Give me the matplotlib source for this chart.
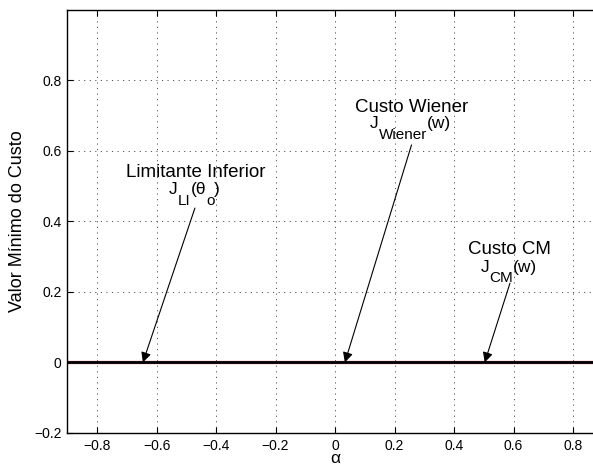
import matplotlib
matplotlib.use('Agg')
import matplotlib.pyplot as plt
import matplotlib as mpl
import matplotlib.transforms as mtransforms

mpl.rcParams['font.family'] = ['Liberation Sans', 'DejaVu Sans']
mpl.rcParams['axes.linewidth'] = 1.0
mpl.rcParams['lines.scale_dashes'] = False

# minimum cost versus alpha for the three criteria
alpha = [-0.9, -0.6, -0.3, 0.0, 0.3, 0.6, 0.9]
custo_li = [0.0, 0.0, 0.0, 0.0, 0.0, 0.0, 0.0]
custo_wiener = [0.0, 0.0, 0.0, 0.0, 0.0, 0.0, 0.0]
custo_cm = [0.0, 0.0, 0.0, 0.0, 0.0, 0.0, 0.0]

xticks = [-0.8, -0.6, -0.4, -0.2, 0, 0.2, 0.4, 0.6, 0.8]
yticks = [-0.2, 0, 0.2, 0.4, 0.6, 0.8]

fig = plt.figure(figsize=(5.93, 4.68), dpi=100)
ax = fig.add_axes([0.1135, 0.0748, 0.903, 0.904])

ax.plot(alpha, custo_li, color='red', linewidth=2.3)
ax.plot(alpha, custo_wiener, color='#b070b0', linewidth=2.15)
ax.plot(alpha, custo_cm, color='black', linewidth=2.0)

ax.set_xlim(-0.9, 0.9)
ax.set_ylim(-0.2, 1.0)
ax.set_xticks(xticks)
ax.set_xticklabels([f'{t:g}'.replace('-', '\u2212') for t in xticks])
ax.set_yticks(yticks)
ax.set_yticklabels([f'{t:g}'.replace('-', '\u2212') for t in yticks])
ax.tick_params(direction='in', top=True, right=True, labelsize=10, length=4, width=0.8, pad=4)
ax.grid(True, linestyle=(0, (0.8, 3.2)), color='#303030', linewidth=0.6)

ax.set_xlabel('α', fontsize=12.5, labelpad=-1)
ax.set_ylabel('Valor Mínimo do Custo', fontsize=13, labelpad=6)

renderer = fig.canvas.get_renderer()


def math_line(x, y, parts, size=12.5, sub_size=11, drop=7.5):
    """Centered line of text with MATLAB-like subscripts, baseline at (x, y)."""
    texts = []
    for s, sub in parts:
        t = ax.text(x, y, s, fontsize=sub_size if sub else size, ha='left', va='baseline')
        texts.append((t, sub))
    widths = [t.get_window_extent(renderer).width * 72 / fig.dpi for t, _ in texts]
    dx = -sum(widths) / 2
    for (t, sub), w in zip(texts, widths):
        t.set_transform(mtransforms.offset_copy(ax.transData, fig, x=dx,
                                                y=-drop if sub else 0, units='points'))
        dx += w


arrow = dict(arrowstyle='-|>', color='black', lw=0.8, mutation_scale=15, shrinkA=0, shrinkB=0)

# Limitante inferior
ax.text(-0.468, 0.527, 'Limitante Inferior', fontsize=13.5, ha='center', va='baseline')
math_line(-0.472, 0.477, [('J', 0), ('LI', 1), ('(θ', 0), ('o', 1), (')', 0)])
ax.annotate('', xy=(-0.646, 0), xytext=(-0.471, 0.438), arrowprops=arrow)

# Custo Wiener
ax.text(0.256, 0.711, 'Custo Wiener', fontsize=13.5, ha='center', va='baseline')
math_line(0.254, 0.664, [('J', 0), ('Wiener', 1), ('(w)', 0)])
ax.annotate('', xy=(0.033, 0), xytext=(0.257, 0.617), arrowprops=arrow)

# Custo CM
ax.text(0.587, 0.308, 'Custo CM', fontsize=13.5, ha='center', va='baseline')
math_line(0.584, 0.258, [('J', 0), ('CM', 1), ('(w)', 0)])
ax.annotate('', xy=(0.503, 0), xytext=(0.588, 0.225), arrowprops=arrow)

fig.savefig('out.png', dpi=100)
